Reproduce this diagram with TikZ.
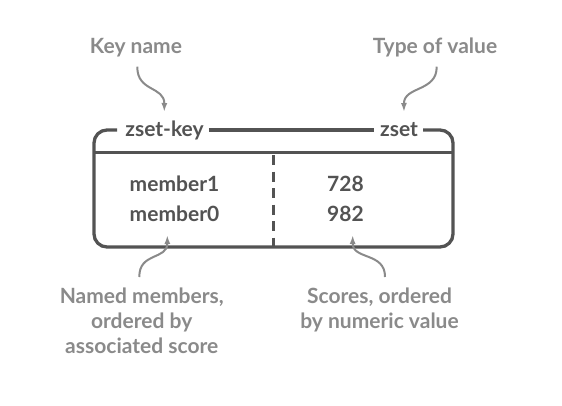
\documentclass[tikz,border=0pt]{standalone}
\usepackage{fontspec}
\setmainfont{Lato}
\usetikzlibrary{arrows.meta}
\definecolor{boxc}{HTML}{535353}
\definecolor{notec}{HTML}{8A8A8A}
\begin{document}
\begin{tikzpicture}[x=1pt,y=-1pt,
  boxtext/.style={font=\bfseries\fontsize{21}{25}\selectfont, text=boxc, inner sep=0pt, anchor=base},
  notetext/.style={font=\bfseries\fontsize{21}{25}\selectfont, text=notec, align=center, inner sep=0pt},
  boxline/.style={draw=boxc, line width=3.3pt},
  pointer/.style={draw=notec, line width=2pt, -{Latex[length=9pt,width=6pt]}}]
\useasboundingbox (0,0) rectangle (562,405);
% labels on top edge
\node[boxtext] (k) at (164.5,136) {zset-key};
\node[boxtext] (t) at (399,136) {zset};
% outline
\draw[boxline, rounded corners=13pt] ([xshift=-8pt]k.west |- 0,130) -- (94,130) -- (94,247) -- (453,247) -- (453,130) -- ([xshift=5pt]t.east |- 0,130);
\draw[boxline] ([xshift=5pt]k.east |- 0,130) -- ([xshift=-6pt]t.west |- 0,130);
\draw[boxline, line width=3pt] (94,152) -- (453,152);
\draw[boxline, line width=3pt, dash pattern=on 10pt off 6.5pt] (273,155) -- (273,247);
% contents
\node[boxtext] (m1) at (174.5,191) {member1};
\node[boxtext] (m0) at (174.5,221) {member0};
\node[boxtext] (s1) at (345.5,191) {728};
\node[boxtext] (s0) at (345.5,221) {982};
% annotations
\node[notetext, anchor=base] (kn) at (136,53) {Key name};
\node[notetext, anchor=base] (tv) at (435,53) {Type of value};
\node[notetext, anchor=north] (nm) at (141.7,288) {Named members,\\ordered by\\associated score};
\node[notetext, anchor=north] (sc) at (379.5,288) {Scores, ordered\\by numeric value};
\coordinate (kt) at (164.3,112);
\coordinate (tt) at (404,112);
\coordinate (mt) at (167.3,235);
\coordinate (st) at (352.7,235);
\draw[pointer] (137.3,66.7) .. controls (137,92) and (164.5,86) .. (kt);
\draw[pointer] (436.7,66.7) .. controls (437,92) and (403.7,86) .. (tt);
\draw[pointer] (139.3,277) .. controls (139,252) and (167.5,260) .. (mt);
\draw[pointer] (385,277) .. controls (385.3,252) and (352.5,260) .. (st);
\end{tikzpicture}
\end{document}
